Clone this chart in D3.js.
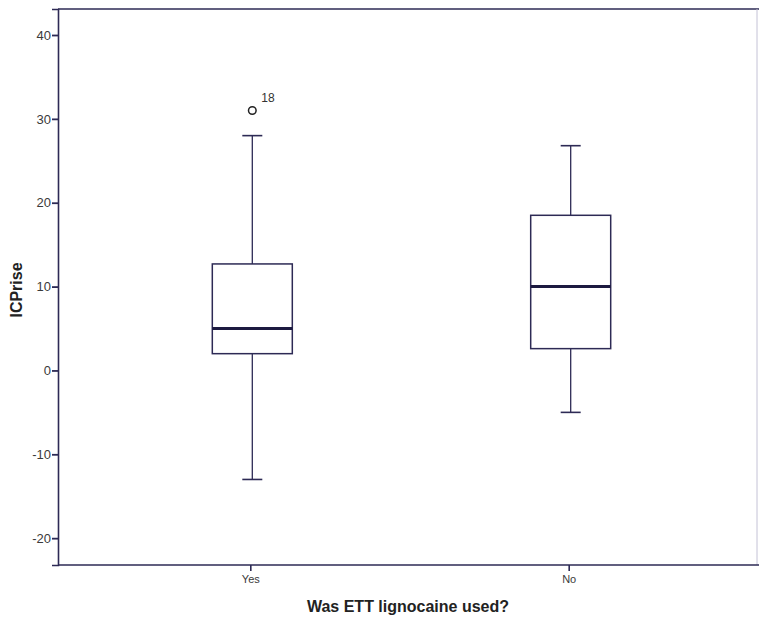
<!DOCTYPE html>
<html><head><meta charset="utf-8">
<script src="https://cdn.jsdelivr.net/npm/d3@7"></script>
<style>body{margin:0;background:#fff;} svg{display:block;}</style>
</head><body>
<svg id="c" width="759" height="619"></svg>
<script>
const categories = ["Yes", "No"];
const whiskerLow = [-13, -5];
const q1 = [2, 2.6];
const median = [5, 10];
const q3 = [12.7, 18.5];
const whiskerHigh = [28, 26.8];
const outlierCategory = ["Yes"];
const outlierValue = [31];
const outlierLabel = ["18"];
const yTicks = [-20, -10, 0, 10, 20, 30, 40];

const svg = d3.select("#c");
const L = 58, R = 757, T = 9, B = 565;
const ink = "#2d2a55";
const y = d3.scaleLinear().domain([-23.2, 43.1]).range([B, T]);
const x = d3.scalePoint().domain(categories).range([L, 761]).padding(0.604);

svg.append("line").attr("x1", L).attr("x2", 759).attr("y1", T).attr("y2", T).attr("stroke", ink).attr("stroke-width", 1.6);
svg.append("line").attr("x1", R).attr("x2", R).attr("y1", T).attr("y2", B).attr("stroke", "#c4c2d6").attr("stroke-width", 1);

const yAxis = svg.append("g").attr("transform", `translate(${L},0)`)
  .call(d3.axisLeft(y).tickValues(yTicks).tickSize(6).tickPadding(1).tickFormat(d => String(d)));
yAxis.select(".domain").attr("stroke", ink).attr("stroke-width", 1.6);
yAxis.selectAll(".tick line").attr("stroke", ink).attr("stroke-width", 1.8);
yAxis.selectAll("text").attr("fill", "#3a3a3a").style("font-family", "Liberation Sans, Arial, sans-serif").style("font-size", "13px");

const xAxis = svg.append("g").attr("transform", `translate(0,${B})`)
  .call(d3.axisBottom(x).tickSize(6).tickPadding(4));
xAxis.select(".domain").remove();
svg.append("line").attr("x1", L).attr("x2", 759).attr("y1", B).attr("y2", B).attr("stroke", ink).attr("stroke-width", 1.6);
xAxis.selectAll(".tick line").attr("stroke", ink).attr("stroke-width", 1.6);
xAxis.selectAll("text").attr("fill", "#3a3a3a").style("font-family", "Liberation Sans, Arial, sans-serif").style("font-size", "11px");

const data = categories.map((c, i) => ({c, lo: whiskerLow[i], q1: q1[i], med: median[i], q3: q3[i], hi: whiskerHigh[i]}));
const bw = 80, cw = 20;
const g = svg.append("g").attr("stroke", ink).attr("fill", "none");
data.forEach(d => {
  const cx = x(d.c) + 2;
  g.append("line").attr("x1", cx).attr("x2", cx).attr("y1", y(d.hi)).attr("y2", y(d.q3)).attr("stroke-width", 1.3);
  g.append("line").attr("x1", cx).attr("x2", cx).attr("y1", y(d.q1)).attr("y2", y(d.lo)).attr("stroke-width", 1.3);
  g.append("line").attr("x1", cx - cw/2).attr("x2", cx + cw/2).attr("y1", y(d.hi)).attr("y2", y(d.hi)).attr("stroke-width", 1.6);
  g.append("line").attr("x1", cx - cw/2).attr("x2", cx + cw/2).attr("y1", y(d.lo)).attr("y2", y(d.lo)).attr("stroke-width", 1.6);
  g.append("rect").attr("x", cx - bw/2).attr("y", y(d.q3)).attr("width", bw).attr("height", y(d.q1) - y(d.q3)).attr("stroke-width", 1.5).attr("fill", "#fff");
  g.append("line").attr("x1", cx - bw/2).attr("x2", cx + bw/2).attr("y1", y(d.med)).attr("y2", y(d.med)).attr("stroke", "#1c1a40").attr("stroke-width", 3);
});

outlierCategory.forEach((c, i) => {
  const cx = x(c) + 2;
  svg.append("circle").attr("cx", cx).attr("cy", y(outlierValue[i])).attr("r", 3.8)
    .attr("fill", "none").attr("stroke", "#222").attr("stroke-width", 1.5);
  svg.append("text").attr("x", cx + 9).attr("y", y(outlierValue[i]) - 8)
    .attr("fill", "#333").style("font-family", "Liberation Sans, Arial, sans-serif").style("font-size", "12px").text(outlierLabel[i]);
});

svg.append("text").attr("transform", "translate(22,290) rotate(-90)").attr("text-anchor", "middle")
  .attr("fill", "#222").style("font-family", "Liberation Sans, Arial, sans-serif").style("font-size", "16px").style("font-weight", "bold").text("ICPrise");
svg.append("text").attr("x", 408).attr("y", 612).attr("text-anchor", "middle")
  .attr("fill", "#222").style("font-family", "Liberation Sans, Arial, sans-serif").style("font-size", "16px").style("font-weight", "bold").text("Was ETT lignocaine used?");
</script>
</body></html>
